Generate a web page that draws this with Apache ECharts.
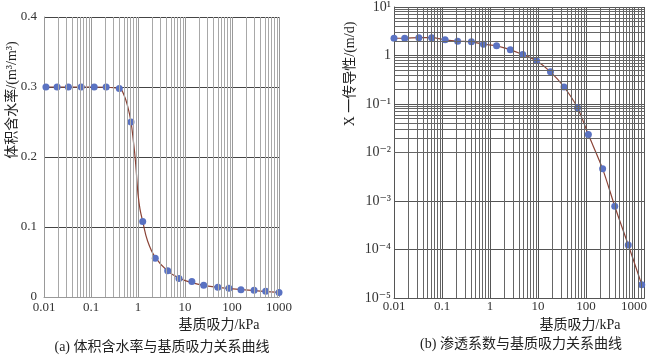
<!DOCTYPE html>
<html><head><meta charset="utf-8">
<script src="https://cdn.jsdelivr.net/npm/echarts@6/dist/echarts.min.js"></script>
<style>html,body{margin:0;padding:0;background:#fff}#c{width:650px;height:356px}</style>
</head><body><div id="c"></div>
<script>
// ---- tick labels ----
const xTickLabels = ['0.01', '0.1', '1', '10', '100', '1000'];
const leftYTickLabels = ['0', '0.1', '0.2', '0.3', '0.4'];
const rightYTickLabels = ['10⁻⁵', '10⁻⁴', '10⁻³', '10⁻²', '10⁻¹', '1', '10¹'];

// ---- (a) volumetric water content vs matric suction ----
const suctionA = [0.011, 0.019, 0.033, 0.062, 0.117, 0.21, 0.40, 0.71, 1.26, 2.33, 4.28, 7.45, 14, 25, 50, 86, 155, 295, 521, 1000];
const waterContent = [0.3, 0.3, 0.3, 0.3, 0.3, 0.3, 0.298, 0.25, 0.108, 0.0555, 0.0374, 0.0264, 0.0221, 0.0169, 0.014, 0.0126, 0.0102, 0.0098, 0.0083, 0.0064];
// fitted curve
const curveSuction = [0.01, 0.1, 0.4, 0.5, 0.6, 0.71, 0.8, 0.88, 0.95, 1.0, 1.1, 1.26, 1.6, 2.33, 4.3, 7.5, 14, 25, 50, 90, 160, 300, 550, 1000];
const curveWater = [0.3, 0.3, 0.298, 0.289, 0.273, 0.25, 0.222, 0.195, 0.166, 0.147, 0.126, 0.108, 0.08, 0.0565, 0.037, 0.027, 0.0205, 0.0165, 0.0138, 0.012, 0.0105, 0.0092, 0.0078, 0.0066];

// ---- (b) hydraulic conductivity vs matric suction ----
const suctionB = [0.01, 0.0167, 0.033, 0.061, 0.116, 0.212, 0.41, 0.73, 1.37, 2.65, 4.8, 9.3, 18.2, 34.9, 66.5, 112, 222, 397, 760, 1450];
const conductivity = [2.27, 2.27, 2.33, 2.33, 2.10, 1.97, 1.91, 1.71, 1.58, 1.31, 1.05, 0.78, 0.46, 0.224, 0.084, 0.0234, 0.0046, 0.00078, 0.000124, 0.0000188];

// gridline multipliers within a decade
const minorMultipliers = [2, 3, 4, 5, 6, 7, 8, 9];

function decadeLines(fromExp, toExp, extra) {
  const out = [];
  for (let e = fromExp; e < toExp; e++) {
    minorMultipliers.forEach(m => out.push(m * Math.pow(10, e)));
  }
  return out.concat(extra || []);
}

const blue = '#5a72c2';
const brown = '#8b4336';
const serif = "'Liberation Serif','DejaVu Serif','Noto Sans CJK SC',serif";
const cjk = "'Liberation Serif','Noto Sans CJK SC',sans-serif";

function logLabel(labels, offset) {
  return function (v) {
    const l = Math.log10(v);
    const e = Math.round(l);
    if (Math.abs(l - e) > 1e-6) return '';
    const s = labels[e + offset];
    return s === undefined ? '' : s;
  };
}

const chart = echarts.init(document.getElementById('c'), null, { renderer: 'canvas' });

const leftMinorX = decadeLines(-2, 3).map(v => ({ xAxis: v }));
const rightMinorX = decadeLines(-2, 3, [1200, 1400]).map(v => ({ xAxis: v }));
const rightMinorY = decadeLines(-5, 1).map(v => ({ yAxis: v }));

const option = {
  animation: false,
  grid: [
    { left: 44, right: 371, top: 17, bottom: 59 },
    { left: 394, right: 2, top: 6, bottom: 58 }
  ],
  xAxis: [
    {
      type: 'log', gridIndex: 0, min: 0.01, max: 1000, logBase: 10,
      axisLine: { show: true, lineStyle: { color: '#999', width: 1 } },
      axisTick: { show: false },
      axisLabel: { formatter: logLabel(xTickLabels, 2), fontFamily: serif, fontSize: 13, color: '#333', margin: 4 },
      splitLine: { show: true, lineStyle: { color: '#999', width: 1 } }
    },
    {
      type: 'log', gridIndex: 1, min: 0.01, max: 1640, logBase: 10,
      axisLine: { show: true, lineStyle: { color: '#555', width: 1 } },
      axisTick: { show: false },
      axisLabel: { formatter: logLabel(xTickLabels, 2), fontFamily: serif, fontSize: 13, color: '#333', margin: 2 },
      splitLine: { show: true, lineStyle: { color: '#555', width: 1 } }
    }
  ],
  yAxis: [
    {
      type: 'value', gridIndex: 0, min: 0, max: 0.4, interval: 0.1,
      axisLine: { show: true, lineStyle: { color: '#999', width: 1 } },
      axisTick: { show: false },
      axisLabel: {
        formatter: v => leftYTickLabels[Math.round(v * 10)],
        fontFamily: serif, fontSize: 13, color: '#333', margin: 7
      },
      splitLine: { show: true, lineStyle: { color: '#444', width: 1 } }
    },
    {
      type: 'log', gridIndex: 1, min: 0.00001, max: 10, logBase: 10,
      axisLine: { show: true, lineStyle: { color: '#555', width: 1 } },
      axisTick: { show: false },
      axisLabel: { formatter: logLabel(rightYTickLabels, 5), fontFamily: serif, fontSize: 14, color: '#333', margin: 3 },
      splitLine: { show: true, lineStyle: { color: '#555', width: 1 } }
    }
  ],
  series: [
    {
      type: 'line', xAxisIndex: 0, yAxisIndex: 0, data: [], silent: true,
      markLine: {
        silent: true, symbol: 'none', label: { show: false }, animation: false,
        lineStyle: { color: '#a8a8a8', width: 1, type: 'solid' },
        data: leftMinorX
      }
    },
    {
      type: 'line', xAxisIndex: 1, yAxisIndex: 1, data: [], silent: true,
      markLine: {
        silent: true, symbol: 'none', label: { show: false }, animation: false,
        lineStyle: { color: '#666', width: 1, type: 'solid' },
        data: rightMinorX.concat(rightMinorY)
      }
    },
    {
      name: 'curveA', type: 'line', xAxisIndex: 0, yAxisIndex: 0,
      data: curveSuction.map((x, i) => [x, curveWater[i]]),
      smooth: 0.4, symbol: 'none', lineStyle: { color: brown, width: 1.2 }, z: 3
    },
    {
      name: 'pointsA', type: 'scatter', xAxisIndex: 0, yAxisIndex: 0,
      data: suctionA.map((x, i) => [x, waterContent[i]]),
      symbolSize: 7, itemStyle: { color: blue, opacity: 1 }, z: 4
    },
    {
      name: 'conductivity', type: 'line', xAxisIndex: 1, yAxisIndex: 1,
      data: suctionB.map((x, i) => [x, conductivity[i]]),
      smooth: 0.3, symbol: 'circle', symbolSize: 7, showSymbol: true,
      itemStyle: { color: blue, borderWidth: 0 },
      lineStyle: { color: brown, width: 1.2 }, z: 4
    }
  ],
  graphic: [
    { type: 'text', x: 12, y: 100, rotation: Math.PI / 2,
      style: { text: '体积含水率/(m³/m³)', x: 0, y: 0, align: 'center', verticalAlign: 'middle', font: "14px " + cjk, fill: '#222' } },
    { type: 'text', x: 350, y: 74, rotation: Math.PI / 2,
      style: { text: 'X 一传导性/(m/d)', x: 0, y: 0, align: 'center', verticalAlign: 'middle', font: "14px " + cjk, fill: '#222' } },
    { type: 'text', x: 219, y: 325,
      style: { text: '基质吸力/kPa', x: 0, y: 0, align: 'center', verticalAlign: 'middle', font: "14px " + cjk, fill: '#222' } },
    { type: 'text', x: 580, y: 325,
      style: { text: '基质吸力/kPa', x: 0, y: 0, align: 'center', verticalAlign: 'middle', font: "14px " + cjk, fill: '#222' } },
    { type: 'text', x: 162, y: 347,
      style: { text: '(a) 体积含水率与基质吸力关系曲线', x: 0, y: 0, align: 'center', verticalAlign: 'middle', font: "14px " + cjk, fill: '#222' } },
    { type: 'text', x: 521, y: 344,
      style: { text: '(b) 渗透系数与基质吸力关系曲线', x: 0, y: 0, align: 'center', verticalAlign: 'middle', font: "14px " + cjk, fill: '#222' } }
  ]
};
chart.setOption(option);
</script>
</body></html>
